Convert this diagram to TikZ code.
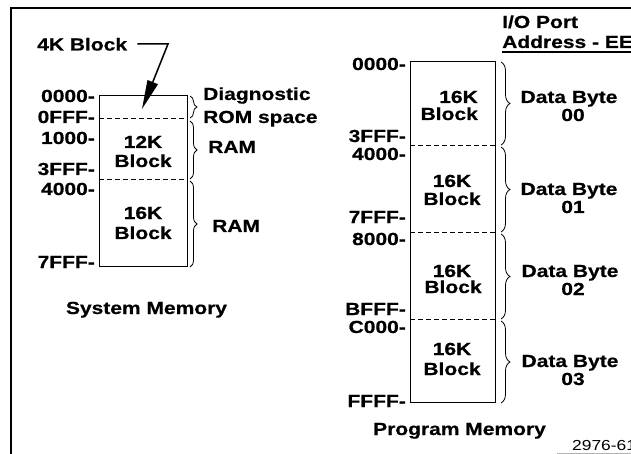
\documentclass[tikz,border=0pt]{standalone}
\usepackage{fontspec}
\setmainfont{Liberation Sans}[FakeStretch=1.2,BoldFeatures={FakeBold=0.6}]
\usetikzlibrary{arrows.meta,decorations.pathreplacing}
\begin{document}
\begin{tikzpicture}[x=1pt,y=-1pt,
  lbl/.style={inner sep=0pt,font=\bfseries\fontsize{17.5}{18}\selectfont},
  addr/.style={lbl,anchor=base east},
  txt/.style={lbl,anchor=base west},
  ctr/.style={lbl,anchor=base},
  boxline/.style={line width=1pt},
  sep/.style={line width=0.9pt,dash pattern=on 5pt off 3pt},
  brc/.style={line width=0.8pt,decorate,decoration={brace,amplitude=#1}},
  brc/.default=7pt]
\useasboundingbox (0,0) rectangle (631,454);
% frame
\draw[line width=2pt] (11,454) -- (11,8) -- (640,8);
\draw[gray!60,line width=0.6pt] (557,453) -- (640,453);

% ---------- System memory ----------
\draw[boxline] (99,96) rectangle (187,266);
\draw[sep] (99,118) -- (187,118);
\draw[sep] (99,179) -- (187,179);

\node[txt] (k4) at (37,50.5) {4K Block};
\coordinate (kbend) at (168,44);
\coordinate (ktip) at (142,109);
\draw[line width=1.5pt,-{Triangle[length=29pt,width=11pt]}] (k4.east |- kbend) ++(10,0) -- (kbend) -- (ktip);

\node[addr] (a1) at (95,102) {0000-};
\node[addr] (a2) at (95,123) {0FFF-};
\node[addr] (a3) at (95,144) {1000-};
\node[addr] (a4) at (95,175) {3FFF-};
\node[addr] (a5) at (95,195) {4000-};
\node[addr] (a6) at (95,268) {7FFF-};

\node[ctr] (b12a) at (143,148) {12K};
\node[ctr] (b12b) at (143,167) {Block};
\node[ctr] (b16a) at (143,219) {16K};
\node[ctr] (b16b) at (143,239) {Block};

\draw[brc] (190,96) -- (190,118);
\draw[brc] (190,121) -- (190,179);
\draw[brc] (190,181) -- (190,267);
\node[txt] (diag) at (203,100) {Diagnostic};
\node[txt] (rom) at (203,123) {ROM space};
\node[txt] (ram1) at (208,153) {RAM};
\node[txt] (ram2) at (212,232) {RAM};

\node[ctr] (sysm) at (146.5,314) {System Memory};

% ---------- Program memory ----------
\draw[boxline] (410,62) rectangle (495,402);
\draw[sep] (410,145) -- (495,145);
\draw[sep] (410,232) -- (495,232);
\draw[sep] (410,319) -- (495,319);

\node[txt] (io1) at (502,28) {I/O Port};
\node[txt] (io2) at (502,48) {Address - EE};
\draw[line width=1.2pt] (502,52) -- (640,52);

\node[addr] (p1) at (406,70) {0000-};
\node[addr] (p2) at (406,142) {3FFF-};
\node[addr] (p3) at (406,160) {4000-};
\node[addr] (p4) at (406,223) {7FFF-};
\node[addr] (p5) at (406,245) {8000-};
\node[addr] (p6) at (406,315) {BFFF-};
\node[addr] (p7) at (406,333) {C000-};
\node[addr] (p8) at (406,407) {FFFF-};

\node[lbl,anchor=base east] (s1a) at (478,103) {16K};
\node[lbl,anchor=base east] (s1b) at (478,120) {Block};
\node[ctr] (s2a) at (452,187) {16K};
\node[ctr] (s2b) at (452,205) {Block};
\node[ctr] (s3a) at (452,277) {16K};
\node[ctr] (s3b) at (453,293) {Block};
\node[ctr] (s4a) at (452,355) {16K};
\node[ctr] (s4b) at (452,375) {Block};

\draw[brc=9pt] (501,62) -- (501,145);
\draw[brc=9pt] (501,147) -- (501,232);
\draw[brc=9pt] (501,234) -- (501,319);
\draw[brc=9pt] (501,321) -- (501,403);

\node[ctr] (d1a) at (569,103) {Data Byte};
\node[ctr] (d1b) at (573,121) {00};
\node[ctr] (d2a) at (569,195) {Data Byte};
\node[ctr] (d2b) at (573,213) {01};
\node[ctr] (d3a) at (570,277) {Data Byte};
\node[ctr] (d3b) at (573,295) {02};
\node[ctr] (d4a) at (570,367) {Data Byte};
\node[ctr] (d4b) at (573,385) {03};

\node[ctr] (prgm) at (459.5,435) {Program Memory};
\node[lbl,anchor=base west,font=\fontsize{14.5}{15}\selectfont] (fig) at (572,450) {2976-61};
\end{tikzpicture}
\end{document}
